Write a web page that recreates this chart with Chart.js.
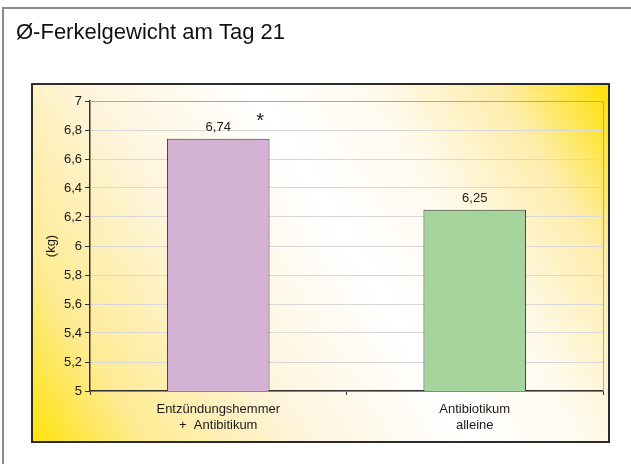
<!DOCTYPE html>
<html lang="de">
<head>
<meta charset="utf-8">
<title>Ø-Ferkelgewicht am Tag 21</title>
<script src="https://cdn.jsdelivr.net/npm/chart.js@4/dist/chart.umd.min.js"></script>
<style>
  html, body { margin: 0; padding: 0; background: #fff; }
  canvas { display: block; }
</style>
</head>
<body>
<canvas id="chart" width="631" height="464"></canvas>
<script>
// chart values
const chartTitle = "Ø-Ferkelgewicht am Tag 21"
const categories = [["Entzündungshemmer", "+  Antibitikum"], ["Antibiotikum", "alleine"]]
const weights = [6.74, 6.25]
const significance = ["*", ""]
const barColors = ["#D4B2D3", "#A5D49C"]
const yTitle = "(kg)"
const yMin = 5
const yMax = 7
const yStep = 0.2

const family = "'Liberation Sans', Arial, Helvetica, sans-serif"
const fmt = v => String(Number(v.toFixed(2))).replace(".", ",")

// frame, yellow panel and title behind the chart
const framePlugin = {
  id: "frame",
  beforeDraw(chart) {
    const ctx = chart.ctx
    ctx.save()
    ctx.fillStyle = "#fff"
    ctx.fillRect(0, 0, chart.width, chart.height)

    // outer grey frame (only left and top visible)
    ctx.strokeStyle = "#8a8a8a"
    ctx.lineWidth = 2
    ctx.beginPath()
    ctx.moveTo(3, chart.height)
    ctx.lineTo(3, 8)
    ctx.lineTo(chart.width, 8)
    ctx.stroke()

    // panel with diagonal gradient
    const px = 32, py = 84, pw = 577, ph = 358
    const g = ctx.createLinearGradient(px, py + ph, px + pw, py)
    g.addColorStop(0, "#FFE20A")
    g.addColorStop(0.14, "#FEEB92")
    g.addColorStop(0.35, "#FEF5DE")
    g.addColorStop(0.55, "#FFFFFF")
    g.addColorStop(0.7, "#FFFAEE")
    g.addColorStop(0.86, "#FEEDAA")
    g.addColorStop(1, "#FFE000")
    ctx.fillStyle = g
    ctx.fillRect(px, py, pw, ph)
    ctx.strokeStyle = "#2b2b2b"
    ctx.lineWidth = 2
    ctx.strokeRect(px, py, pw, ph)

    ctx.fillStyle = "#111"
    ctx.font = "22px " + family
    ctx.textBaseline = "alphabetic"
    ctx.textAlign = "left"
    ctx.fillText(chartTitle, 16, 39)
    ctx.restore()
  },
  beforeDatasetsDraw(chart) {
    // grey plot frame on top and right
    const { ctx, chartArea: a } = chart
    ctx.save()
    ctx.strokeStyle = "#a8a8a8"
    ctx.lineWidth = 1
    ctx.beginPath()
    ctx.moveTo(a.left, a.top + 0.5)
    ctx.lineTo(a.right + 0.5, a.top + 0.5)
    ctx.lineTo(a.right + 0.5, a.bottom)
    ctx.stroke()
    ctx.restore()
  },
  afterDatasetsDraw(chart) {
    const ctx = chart.ctx
    const bars = chart.getDatasetMeta(0).data
    ctx.save()
    ctx.fillStyle = "#222"
    ctx.textAlign = "center"
    ctx.textBaseline = "middle"
    bars.forEach((bar, i) => {
      ctx.font = "13px " + family
      ctx.fillText(fmt(weights[i]), bar.x, bar.y - 11)
      if (significance[i]) {
        ctx.font = "20px " + family
        ctx.fillText(significance[i], bar.x + 42, bar.y - 17)
      }
    })
    ctx.restore()
  }
}

new Chart(document.getElementById("chart"), {
  type: "bar",
  data: {
    labels: categories,
    datasets: [
      {
        data: weights,
        backgroundColor: barColors,
        borderColor: "#3a3a3a",
        borderWidth: 1,
        borderSkipped: false,
        barPercentage: 0.4,
        categoryPercentage: 1
      }
    ]
  },
  options: {
    responsive: false,
    devicePixelRatio: 1,
    animation: false,
    layout: { padding: { left: 32, top: 101, right: 28, bottom: 22 } },
    plugins: {
      legend: { display: false },
      tooltip: { enabled: false }
    },
    scales: {
      x: {
        offset: true,
        grid: { display: true, drawOnChartArea: false, offset: true, tickLength: 4, tickColor: "#333" },
        border: { color: "#333", width: 1.5 },
        ticks: { color: "#1a1a1a", font: { size: 13, family }, padding: 7, maxRotation: 0 },
        afterFit: s => { s.height = 51; s.paddingLeft = 0; s.paddingRight = 0 }
      },
      y: {
        min: yMin,
        max: yMax,
        ticks: { stepSize: yStep, callback: v => fmt(v), color: "#1a1a1a", font: { size: 13, family }, padding: 3 },
        grid: { color: "#d8d8d8", tickColor: "#333", tickLength: 5 },
        border: { color: "#333", width: 1.5 },
        title: { display: true, text: yTitle, color: "#1a1a1a", font: { size: 13, family }, padding: { top: 12, bottom: 0 } },
        afterFit: s => { s.width = 58; s.paddingTop = 0; s.paddingBottom = 0 }
      }
    }
  },
  plugins: [framePlugin]
})
</script>
</body>
</html>
